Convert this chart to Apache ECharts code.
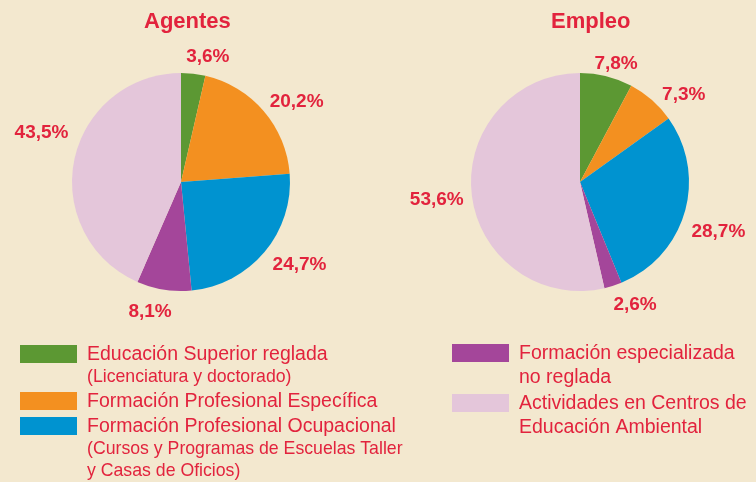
<!DOCTYPE html>
<html lang="es">
<head>
<meta charset="UTF-8">
<title>Agentes y Empleo</title>
<script src="https://cdn.jsdelivr.net/npm/echarts@6/dist/echarts.min.js"></script>
<style>
    html, body { margin: 0; padding: 0; background: #f3e8cf; }
    #main { width: 756px; height: 482px; }
</style>
</head>
<body>
<div id="main"></div>
<script>
    // datos
    var categories = ['Educación Superior reglada', 'Formación Profesional Específica',
        'Formación Profesional Ocupacional', 'Formación especializada no reglada',
        'Actividades en Centros de Educación Ambiental'];
    var agentesValues = [3.6, 20.2, 24.7, 8.1, 43.5];
    var empleoValues = [7.8, 7.3, 28.7, 2.6, 53.6];
    var titles = ['Agentes', 'Empleo'];
    // texto de la leyenda tal como aparece (líneas + nota)
    var legendMain = ['Educación Superior reglada', 'Formación Profesional Específica',
        'Formación Profesional Ocupacional', 'Formación especializada\nno reglada',
        'Actividades en Centros de\nEducación Ambiental'];
    var legendNote = ['(Licenciatura y doctorado)', '', '(Cursos y Programas de Escuelas Taller\ny Casas de Oficios)', '', ''];

    var colors = ['#5c9833', '#f39020', '#0093d0', '#a4469a', '#e4c6da'];
    var red = '#e2233d';
    var font = '"Liberation Sans", Arial, sans-serif';

    var myChart = echarts.init(document.getElementById('main'));

    function pieData(values) {
        return values.map(function (v, i) {
            return {name: categories[i], value: v};
        });
    }

    function pct(p) {
        return p.value.toFixed(1).replace('.', ',') + '%';
    }

    function pieSeries(values, cx, shifts) {
        return {
            type: 'pie',
            center: [cx, 182],
            radius: 109,
            startAngle: 90,
            clockwise: true,
            avoidLabelOverlap: false,
            silent: true,
            data: pieData(values),
            itemStyle: {borderWidth: 0},
            label: {
                show: true,
                position: 'outside',
                formatter: pct,
                color: red,
                fontFamily: font,
                fontWeight: 'bold',
                fontSize: 19
            },
            labelLine: {show: false, length: 8, length2: 0},
            // pequeños ajustes de las etiquetas para seguir el original
            labelLayout: function (params) {
                var s = shifts[params.dataIndex];
                return {dx: s[0], dy: s[1]};
            }
        };
    }

    // leyenda dibujada a mano (dos columnas, textos de varias líneas)
    var legendPos = [[20, 345], [20, 392], [20, 417], [452, 344], [452, 394]];
    var graphics = [];
    legendMain.forEach(function (txt, i) {
        var p = legendPos[i];
        graphics.push({
            type: 'rect',
            shape: {x: p[0], y: p[1], width: 57, height: 18},
            style: {fill: colors[i]}
        });
        var t = '{m|' + txt.split('\n').join('}\n{m|') + '}';
        if (legendNote[i]) {
            t += '\n{n|' + legendNote[i].split('\n').join('}\n{n|') + '}';
        }
        graphics.push({
            type: 'text',
            x: p[0] + 67,
            y: p[1] - 2,
            style: {
                text: t,
                fill: red,
                fontFamily: font,
                rich: {
                    m: {fontSize: 19.5, lineHeight: 23.5, fill: red, fontFamily: font},
                    n: {fontSize: 17.7, lineHeight: 22, fill: red, fontFamily: font}
                }
            }
        });
    });

    var option = {
        backgroundColor: '#f3e8cf',
        color: colors,
        animation: false,
        title: [
            {text: titles[0], left: 139, top: 6,
                textStyle: {color: red, fontSize: 22, fontWeight: 'bold', fontFamily: font}},
            {text: titles[1], left: 546, top: 6,
                textStyle: {color: red, fontSize: 22, fontWeight: 'bold', fontFamily: font}}
        ],
        series: [
            pieSeries(agentesValues, 181, [[-13, -9], [-5, -4], [-3, 8], [14, 14], [7, -25]]),
            pieSeries(empleoValues, 580, [[-19, -5], [0, 1], [-6, 17], [-7, 11], [5, 5]])
        ],
        graphic: graphics
    };

    myChart.setOption(option);
</script>
</body>
</html>
